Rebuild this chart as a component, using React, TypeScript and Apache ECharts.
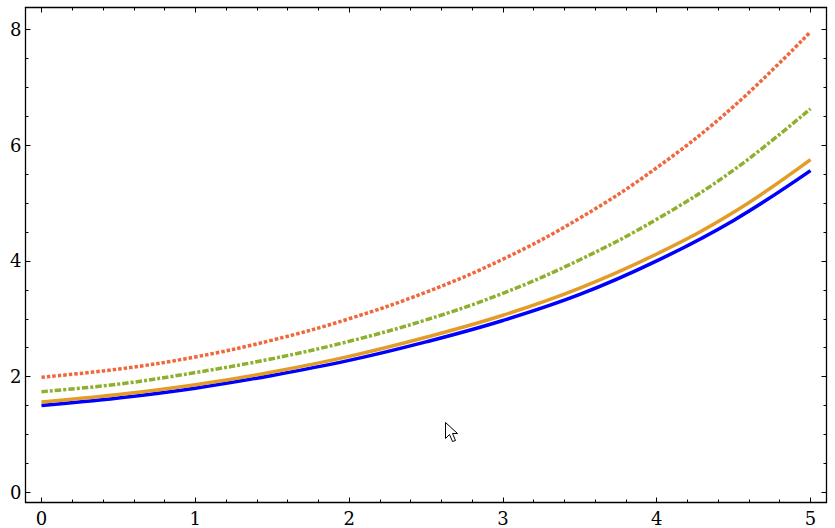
import React, { useEffect, useRef } from "react";
import * as echarts from "echarts";

const xValues = [0, 0.5, 1, 1.5, 2, 2.5, 3, 3.5, 4, 4.5, 5];
const blueValues = [1.5, 1.63, 1.8, 2.02, 2.28, 2.6, 2.97, 3.42, 4.0, 4.7, 5.56];
const orangeValues = [1.56, 1.69, 1.86, 2.08, 2.35, 2.68, 3.06, 3.53, 4.12, 4.84, 5.75];
const greenValues = [1.74, 1.87, 2.07, 2.31, 2.61, 2.98, 3.44, 4.02, 4.72, 5.57, 6.63];
const redValues = [1.99, 2.13, 2.34, 2.63, 3.0, 3.46, 4.03, 4.74, 5.61, 6.67, 7.96];

const xMajor = [0, 1, 2, 3, 4, 5];
const xMinor = [0.2, 0.4, 0.6, 0.8, 1.2, 1.4, 1.6, 1.8, 2.2, 2.4, 2.6, 2.8, 3.2, 3.4, 3.6, 3.8, 4.2, 4.4, 4.6, 4.8];
const yMajor = [0, 2, 4, 6, 8];
const yMinor = [0.5, 1, 1.5, 2.5, 3, 3.5, 4.5, 5, 5.5, 6.5, 7, 7.5];

const X_MIN = -0.104;
const X_MAX = 5.104;
const Y_MIN = -0.176;
const Y_MAX = 8.38;

const CURSOR = "M0 0 L0 16 L4 12 L7 19 L10 18 L7 11 L12 11 Z";
const FONT = "DejaVu Serif";

function axis(position: string, ticks: number[], len: number, withLine: boolean, labels: boolean, min: number, max: number) {
  return {
    type: "value",
    position,
    min,
    max,
    splitLine: { show: false },
    axisLine: { show: withLine, onZero: false, lineStyle: { color: "#000", width: 1.3 } },
    axisTick: { show: true, inside: true, length: len, customValues: ticks, lineStyle: { color: "#000", width: 1 } },
    axisLabel: labels
      ? { show: true, customValues: ticks, color: "#000", fontFamily: FONT, fontSize: 18, margin: position === "bottom" ? 7 : 4, showMinLabel: true, showMaxLabel: true }
      : { show: false },
  };
}

function line(name: string, values: number[], color: string, width: number, dash?: number[]) {
  return {
    name,
    type: "line",
    xAxisIndex: 0,
    yAxisIndex: 0,
    data: xValues.map((x, i) => [x, values[i]]),
    smooth: 0.4,
    showSymbol: false,
    symbol: "none",
    lineStyle: { color, width, type: dash ?? "solid", cap: "butt" },
  };
}

export default function App() {
  const ref = useRef<HTMLDivElement>(null);
  useEffect(() => {
    echarts.graphic.registerShape("cursorArrow", echarts.graphic.extendPath(CURSOR, {}) as any);
    const chart = echarts.init(ref.current!, undefined, { renderer: "svg" });
    chart.setOption({
      animation: false,
      backgroundColor: "#fff",
      grid: { left: 25.5, right: 8.5, top: 7.5, bottom: 25.5, containLabel: false },
      xAxis: [
        axis("bottom", xMajor, 5, true, true, X_MIN, X_MAX),
        axis("bottom", xMinor, 3, false, false, X_MIN, X_MAX),
        axis("top", xMajor, 5, true, false, X_MIN, X_MAX),
        axis("top", xMinor, 3, false, false, X_MIN, X_MAX),
      ],
      yAxis: [
        axis("left", yMajor, 5, true, true, Y_MIN, Y_MAX),
        axis("left", yMinor, 3, false, false, Y_MIN, Y_MAX),
        axis("right", yMajor, 5, true, false, Y_MIN, Y_MAX),
        axis("right", yMinor, 3, false, false, Y_MIN, Y_MAX),
      ],
      series: [
        line("blue", blueValues, "#0000ff", 3.5),
        line("orange", orangeValues, "#e39c27", 3.5),
        line("green", greenValues, "#8fb02e", 3.5, [6.5, 2, 3, 2]),
        line("red", redValues, "#f1663a", 3.5, [3.5, 2]),
      ],
      graphic: [
        {
          type: "cursorArrow",
          x: 445.5,
          y: 422.5,
          style: { fill: "#fff", stroke: "#000", lineWidth: 1 },
          z: 100,
        },
      ],
    });
    return () => chart.dispose();
  }, []);
  return <div ref={ref} style={{ position: "absolute", left: 0, top: 0, width: 835, height: 528 }} />;
}
